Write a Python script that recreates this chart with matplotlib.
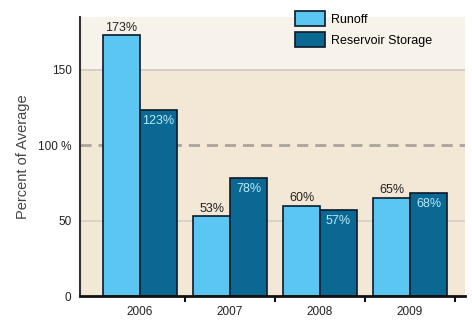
import numpy as np
import matplotlib.pyplot as plt

plt.rcParams['font.family'] = ['Liberation Sans', 'DejaVu Sans']

years = ['2006', '2007', '2008', '2009']
runoff = [173, 53, 60, 65]
storage = [123, 78, 57, 68]

fig = plt.figure(figsize=(4.72, 3.26), dpi=100)
ax = fig.add_axes([0.169, 0.092, 0.816, 0.856])
ax.set_facecolor('#f3e7d6')
ax.axhspan(150, 190, color='#f8f3ea', zorder=0)

x = np.arange(len(years))
w = 0.41
ax.axhline(50, color='#d6cfc4', lw=1.2, zorder=1)
ax.axhline(150, color='#cfc8bd', lw=1.2, zorder=1)
ax.axhline(100, color='#a9a49c', lw=2, ls=(0, (4, 2.5)), zorder=1)

b1 = ax.bar(x - w / 2, runoff, w, color='#5cc6f2', edgecolor='#0a1a2a', lw=1.2, zorder=2, label='Runoff')
b2 = ax.bar(x + w / 2, storage, w, color='#0b6893', edgecolor='#0a1a2a', lw=1.2, zorder=2, label='Reservoir Storage')

for xi, v in zip(x, runoff):
    ax.text(xi - w / 2, v + 1, f'{v}%', ha='center', va='bottom', fontsize=9, color='#222222')
for xi, v in zip(x, storage):
    ax.text(xi + w / 2, v - 3, f'{v}%', ha='center', va='top', fontsize=9, color='#b8ecfb')

ax.set_xlim(-0.67, 3.61)
ax.set_ylim(0, 185)
ax.set_yticks([0, 50, 100, 150])
ax.set_yticklabels(['0', '50', '100 %', '150'], fontsize=8.5, color='#222222')
ax.set_xticks(x)
ax.set_xticklabels(years, fontsize=8.5, color='#222222')
ax.tick_params(axis='x', length=0, pad=7)
ax.tick_params(axis='y', length=0, pad=6)
ax.set_xticks(list(x + 0.5), minor=True)
ax.tick_params(axis='x', which='minor', length=4, width=1.5, color='#111111', direction='out')
ax.set_ylabel('Percent of Average', fontsize=10.5, color='#444444', labelpad=6)

for s in ['top', 'right']:
    ax.spines[s].set_visible(False)
ax.spines['left'].set_color('#333333')
ax.spines['left'].set_linewidth(1.5)
ax.spines['bottom'].set_color('#111111')
ax.spines['bottom'].set_linewidth(2)

ax.legend(loc='upper left', bbox_to_anchor=(0.53, 1.06), frameon=False, fontsize=9,
          handlelength=2.4, handleheight=1.4, labelspacing=0.5, handletextpad=0.5)

fig.savefig('out.png', dpi=100)
